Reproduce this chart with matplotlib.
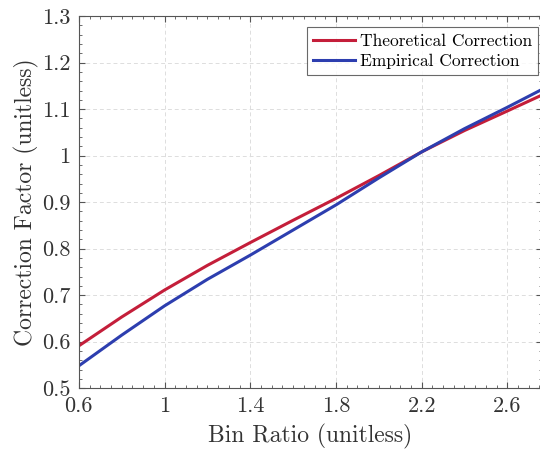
import matplotlib
matplotlib.use("Agg")
import matplotlib.pyplot as plt
from matplotlib.ticker import MultipleLocator

# Computer Modern look (cmr10 ships with matplotlib)
plt.rcParams['font.family'] = ['cmr10', 'DejaVu Serif']
plt.rcParams['axes.formatter.use_mathtext'] = True

# values
bin_ratio = [0.6, 0.8, 1.0, 1.2, 1.4, 1.6, 1.8, 2.0, 2.2, 2.4, 2.6, 2.76]
theoretical = [0.591, 0.653, 0.711, 0.764, 0.813, 0.861, 0.908, 0.957, 1.008, 1.054, 1.096, 1.130]
empirical = [0.548, 0.614, 0.677, 0.734, 0.786, 0.840, 0.894, 0.952, 1.008, 1.058, 1.104, 1.142]

x_ticks = [0.6, 1.0, 1.4, 1.8, 2.2, 2.6]
x_tick_labels = ['0.6', '1', '1.4', '1.8', '2.2', '2.6']
y_ticks = [0.5, 0.6, 0.7, 0.8, 0.9, 1.0, 1.1, 1.2, 1.3]
y_tick_labels = ['0.5', '0.6', '0.7', '0.8', '0.9', '1', '1.1', '1.2', '1.3']

fig = plt.figure(figsize=(5.40, 4.61), dpi=100)
ax = fig.add_axes([0.146, 0.158, 0.857, 0.807])

ax.plot(bin_ratio, theoretical, color='#c41e3a', lw=2.2, label='Theoretical Correction')
ax.plot(bin_ratio, empirical, color='#2d3eaf', lw=2.2, label='Empirical Correction')

ax.set_xlim(0.6, 2.76)
ax.set_ylim(0.5, 1.3)
ax.set_xticks(x_ticks)
ax.set_xticklabels(x_tick_labels)
ax.set_yticks(y_ticks)
ax.set_yticklabels(y_tick_labels)
ax.xaxis.set_minor_locator(MultipleLocator(0.05))
ax.yaxis.set_minor_locator(MultipleLocator(0.02))
ax.tick_params(which='both', direction='in', top=True, right=True,
               colors='#555555', labelcolor='#333333')
ax.tick_params(which='major', length=4, labelsize=16)
ax.tick_params(axis='x', which='major', pad=6)
ax.tick_params(axis='y', which='major', pad=6)
ax.tick_params(which='minor', length=2)
for s in ax.spines.values():
    s.set_color('#555555')
    s.set_linewidth(0.8)

ax.grid(True, which='major', ls=(0, (4, 3)), color='#dddddd', lw=0.7)

ax.set_xlabel('Bin Ratio (unitless)', fontsize=17, color='#333333', labelpad=6)
ax.set_ylabel('Correction Factor (unitless)', fontsize=17, color='#333333', labelpad=2)

leg = ax.legend(loc='upper right', fontsize=12.5, fancybox=False, edgecolor='#444444',
                handlelength=2.4, handletextpad=0.3, borderpad=0.35, labelspacing=0.3,
                borderaxespad=0, bbox_to_anchor=(0.992, 0.970))
leg.get_frame().set_linewidth(0.8)

fig.savefig('out.png', dpi=100, facecolor='white')
